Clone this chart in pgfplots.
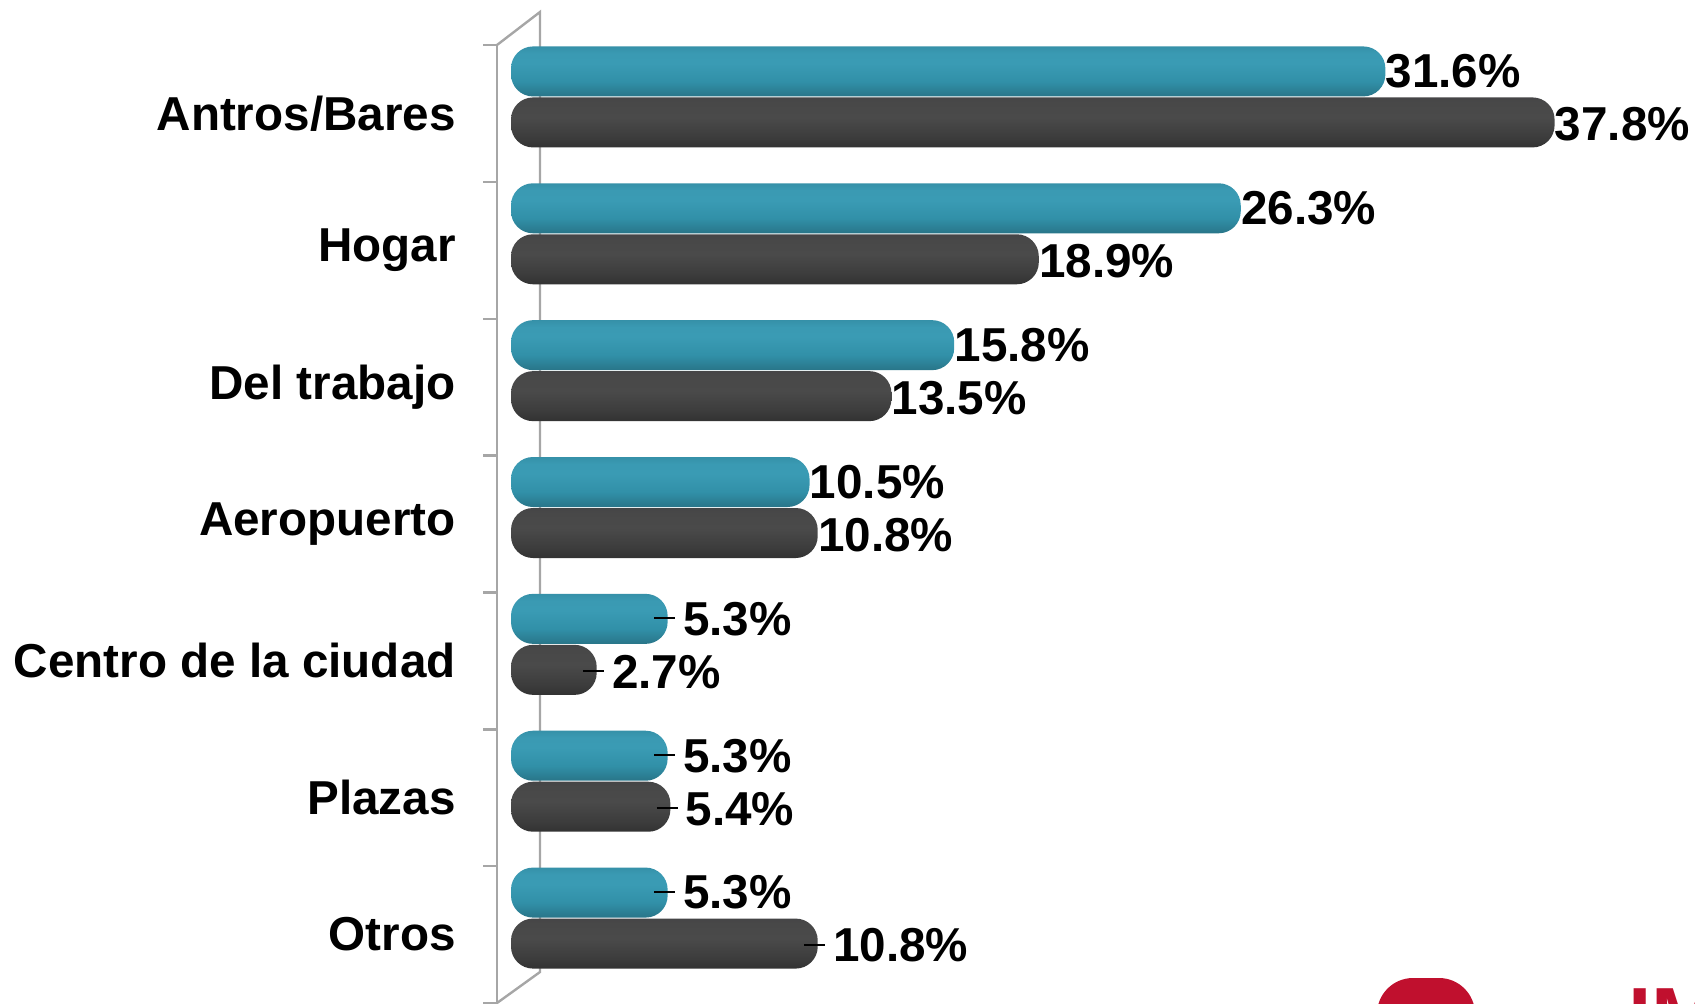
\documentclass[border=0pt]{standalone}
\usepackage{pgfplots}
\pgfplotsset{compat=1.18}
\usepackage{fontspec}
\setmainfont{Liberation Sans}
\definecolor{wallgray}{HTML}{A6A6A6}
\definecolor{logored}{HTML}{C0102E}
\pgfdeclareverticalshading{tealcyl}{100bp}{%
  color(0bp)=({rgb,255:red,20;green,60;blue,71});
  color(8bp)=({rgb,255:red,27;green,77;blue,90});
  color(20bp)=({rgb,255:red,38;green,108;blue,126});
  color(40bp)=({rgb,255:red,49;green,144;blue,168});
  color(58bp)=({rgb,255:red,58;green,155;blue,180});
  color(68bp)=({rgb,255:red,58;green,154;blue,179});
  color(85bp)=({rgb,255:red,47;green,131;blue,153});
  color(100bp)=({rgb,255:red,42;green,116;blue,137})}
\pgfdeclareverticalshading{darkcyl}{100bp}{%
  color(0bp)=({rgb,255:red,28;green,28;blue,28});
  color(12bp)=({rgb,255:red,38;green,38;blue,38});
  color(35bp)=({rgb,255:red,60;green,60;blue,60});
  color(55bp)=({rgb,255:red,74;green,74;blue,74});
  color(70bp)=({rgb,255:red,72;green,72;blue,72});
  color(88bp)=({rgb,255:red,62;green,61;blue,66});
  color(100bp)=({rgb,255:red,54;green,53;blue,57})}
\newcommand{\lblfont}{\fontsize{23.8}{28}\selectfont\bfseries}
\newcommand{\val}{\pgfmathprintnumber[assume math mode=true,fixed,fixed zerofill,precision=1]{\pgfplotspointmeta}\%}
\pgfplotsset{
  cyl/.style={xbar, draw=none, shade, rounded corners=11pt,
    nodes near coords={\val},
    nodes near coords style={font=\lblfont, anchor=west, inner sep=0pt, text=black}},
  tealbar/.style={cyl, shading=tealcyl, bar shift=21pt, nodes near coords style={yshift=21pt}},
  darkbar/.style={cyl, shading=darkcyl, bar shift=-4.5pt, nodes near coords style={yshift=-5.5pt}},
  leader/.style={nodes near coords={\rule[7.9pt]{10.5pt}{1.1pt}\hspace{4pt}\val},
    nodes near coords style={xshift=-7pt}},
}
\begin{document}
\begin{tikzpicture}[x=1pt,y=1pt]
\useasboundingbox (0,0) rectangle (847.5,501.5);
% 3D wall
\draw[wallgray, line width=1.2pt] (248.5,479)--(270,495.5)--(270,15.5)--(248.5,0);
\draw[wallgray, line width=1.2pt] (248.5,479)--(248.5,-2);
\foreach \k in {0,...,7} \draw[wallgray,line width=1.2pt] (241.5,479-68.43*\k)--(248.5,479-68.43*\k);
% logo fragment
\fill[logored, rounded corners=18pt] (688.5,-20) -- (688.5,12.5) -- (737.5,12.5) -- (737.5,-20) -- cycle;
\node[anchor=north west, inner sep=0pt, text=logored, font=\fontsize{42}{50}\selectfont\bfseries] at (814,7.5) {IM};
\begin{axis}[
  at={(248.5pt,0pt)}, anchor=south west,
  scale only axis, width=552.8pt, height=479pt,
  xmin=-0.513, xmax=40, ymin=-0.5, ymax=6.5,
  axis line style={draw=none},
  xtick=\empty,
  ytick={0,...,6},
  yticklabels={Otros,Plazas,Centro de la ciudad,Aeropuerto,Del trabajo,Hogar,Antros/Bares},
  major tick length=0pt,
  yticklabel style={font=\lblfont, anchor=east, inner sep=0pt, xshift=-20.5pt},
  clip=false,
  bar width=25pt,
  point meta=rawx,
  x filter/.expression={x+0.44},
]
% series 1 (teal)
\addplot[tealbar] coordinates {(31.6,6)};
\addplot[tealbar] coordinates {(26.3,5)};
\addplot[tealbar] coordinates {(15.8,4)};
\addplot[tealbar] coordinates {(10.5,3)};
\addplot[tealbar,leader] coordinates {(5.3,2)};
\addplot[tealbar,leader] coordinates {(5.3,1)};
\addplot[tealbar,leader] coordinates {(5.3,0)};
% series 2 (dark)
\addplot[darkbar] coordinates {(37.8,6)};
\addplot[darkbar] coordinates {(18.9,5)};
\addplot[darkbar] coordinates {(13.5,4)};
\addplot[darkbar] coordinates {(10.8,3)};
\addplot[darkbar,leader] coordinates {(2.7,2)};
\addplot[darkbar,leader] coordinates {(5.4,1)};
\addplot[darkbar,leader] coordinates {(10.8,0)};
\end{axis}
\end{tikzpicture}
\end{document}
